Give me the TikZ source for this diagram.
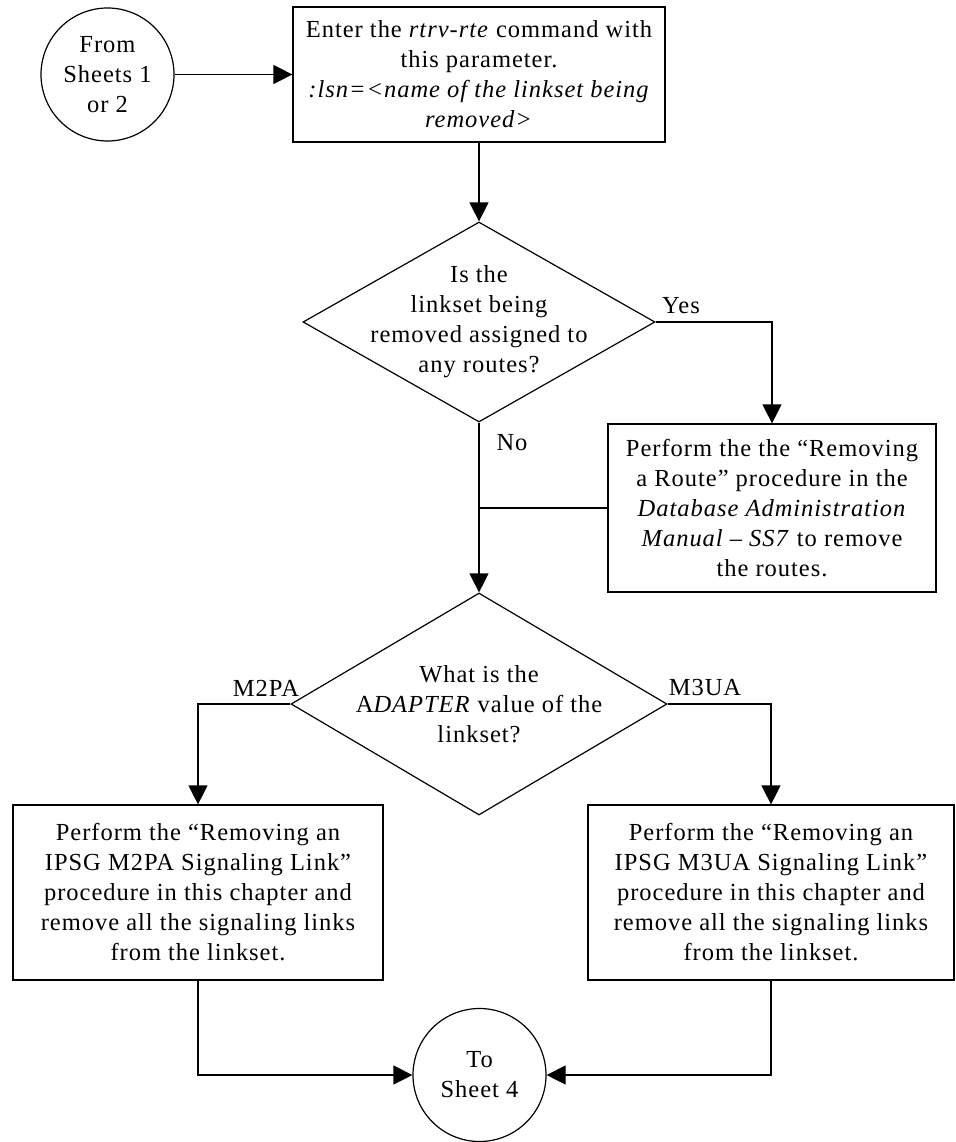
\documentclass[tikz,border=0pt]{standalone}
\usepackage{fontspec}
\setmainfont{Liberation Serif}[LetterSpace=4]
\usetikzlibrary{shapes.geometric,arrows.meta}
\begin{document}
\begin{tikzpicture}[x=1pt,y=-1pt,
  every node/.style={font=\fontsize{24.5}{30}\selectfont, inner sep=0pt},
  proc/.style={draw, rectangle, line width=1.2pt, align=center},
  term/.style={draw, circle, line width=1.2pt, align=center, minimum size=133pt},
  dec/.style={draw, diamond, line width=1.2pt},
  txt/.style={align=center},
  conn/.style={line width=1.2pt},
  arr/.style={conn, -{Triangle[length=19pt,width=19pt]}}
]
\useasboundingbox[fill=white] (0,0) rectangle (955,1142);

\node[term] (start) at (107.5,74.5) {From\\Sheets 1\\or 2};
\node[proc, minimum width=372pt, minimum height=135pt] (box1) at (479,74.5)
  {Enter the \textit{rtrv-rte} command with\\this parameter.\\\textit{:lsn=<name of the linkset being}\\\textit{removed>}};

\node[dec, minimum width=352pt, minimum height=200pt] (d1) at (479,322) {};
\node[txt] (d1t) at (d1.center) {Is the\\linkset being\\removed assigned to\\any routes?};

\node[proc, minimum width=328pt, minimum height=168pt] (box2) at (772,508)
  {Perform the the “Removing\\a Route” procedure in the\\\textit{Database Administration}\\\textit{Manual -- SS7} to remove\\the routes.};

\node[dec, minimum width=376pt, minimum height=222pt] (d2) at (479,704) {};
\node[txt] (d2t) at (d2.center) {What is the\\A\textit{DAPTER} value of the\\linkset?};

\node[proc, minimum width=370pt, minimum height=175pt] (box3) at (198,892.5)
  {Perform the “Removing an\\IPSG M2PA Signaling Link”\\procedure in this chapter and\\remove all the signaling links\\from the linkset.};
\node[proc, minimum width=366pt, minimum height=175pt] (box4) at (771,892.5)
  {Perform the “Removing an\\IPSG M3UA Signaling Link”\\procedure in this chapter and\\remove all the signaling links\\from the linkset.};

\node[term] (end) at (479.5,1075) {To\\Sheet 4};

% labels
\node (yes) at (681,306) {Yes};
\node (no) at (512,443) {No};
\node (m2pa) at (266,688) {M2PA};
\node (m3ua) at (705,688) {M3UA};

% connectors
\draw[arr] (start.east) -- (box1.west);
\draw[arr] (box1.south) -- (d1.north);
\draw[arr] (d1.east) -| (box2.north);
\draw[arr] (d1.south) -- (d2.north);
\draw[conn] (box2.west) -- (box2.west -| d1.south);
\draw[arr] (d2.west) -| (box3.north);
\draw[arr] (d2.east) -| (box4.north);
\draw[arr] (box3.south) |- (end.west);
\draw[arr] (box4.south) |- (end.east);
\end{tikzpicture}
\end{document}
